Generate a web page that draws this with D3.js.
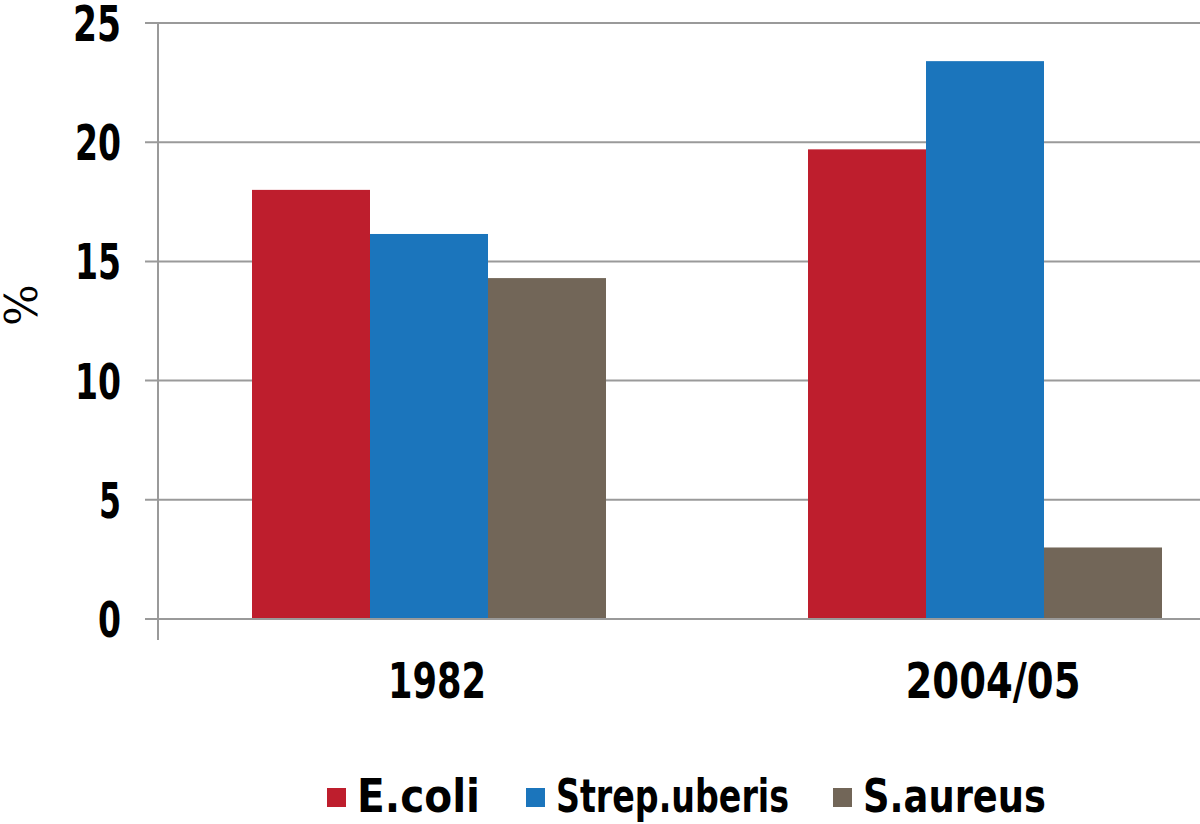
<!DOCTYPE html>
<html>
<head>
<meta charset="utf-8">
<script src="https://cdn.jsdelivr.net/npm/d3@7"></script>
<style>
  body { margin: 0; background: #fff; }
  svg text { font-family: "DejaVu Sans Condensed", "DejaVu Sans", sans-serif; font-weight: bold; fill: #000; }
</style>
</head>
<body>
<svg id="chart" width="1200" height="824"></svg>
<script>
// data
const YEARS = ['1982', '2004/05'];
const SERIES = ['E.coli', 'Strep.uberis', 'S.aureus'];
const ECOLI = [18.0, 19.7];
const STREP = [16.15, 23.4];
const SAUREUS = [14.3, 3.0];
const Y_TICKS = [0, 5, 10, 15, 20, 25];
const COLORS = ['#BE1E2D', '#1B75BC', '#726658'];

const VALUES = [ECOLI, STREP, SAUREUS];

// the original font is a heavy condensed face, squeeze text to its measured widths
const TEXT_WIDTH = {
    '0': 23, '5': 22, '10': 46, '15': 46, '20': 46, '25': 48,
    '1982': 98, '2004/05': 175,
    'E.coli': 123, 'Strep.uberis': 233, 'S.aureus': 183
};

const svg = d3.select('#chart');

const y = d3.scaleLinear().domain([0, 25]).range([619, 23]);
const x = d3.scaleBand().domain(YEARS).range([151, 1263]);
const xs = d3.scaleBand().domain(SERIES).range([101, x.bandwidth() - 101]);
const color = d3.scaleOrdinal().domain(SERIES).range(COLORS);

function squeeze(sel) {
    sel.attr('textLength', d => TEXT_WIDTH[String(d)])
        .attr('lengthAdjust', 'spacingAndGlyphs');
}

// gridlines + tick marks
svg.append('g')
    .selectAll('line')
    .data(Y_TICKS)
    .enter()
    .append('line')
        .attr('x1', 145)
        .attr('x2', 1200)
        .attr('y1', d => y(d))
        .attr('y2', d => y(d))
        .style('stroke', '#9a9a9a')
        .style('stroke-width', 2);

// bars
const rows = [];
YEARS.forEach((yr, i) => {
    SERIES.forEach((s, j) => rows.push({ year: yr, series: s, value: VALUES[j][i] }));
});

svg.append('g')
    .selectAll('rect')
    .data(rows)
    .enter()
    .append('rect')
        .attr('x', d => x(d.year) + xs(d.series))
        .attr('y', d => y(d.value))
        .attr('width', xs.bandwidth())
        .attr('height', d => y(0) - y(d.value))
        .style('fill', d => color(d.series));

// baseline on top of bars
svg.append('line')
    .attr('x1', 145).attr('x2', 1200)
    .attr('y1', y(0)).attr('y2', y(0))
    .style('stroke', '#9a9a9a').style('stroke-width', 2);

// vertical axis line
svg.append('line')
    .attr('x1', 158).attr('x2', 158)
    .attr('y1', y(25)).attr('y2', 640)
    .style('stroke', '#9a9a9a').style('stroke-width', 2);

// y tick labels
svg.append('g')
    .selectAll('text')
    .data(Y_TICKS)
    .enter()
    .append('text')
        .attr('x', 121)
        .attr('y', d => y(d) + 18)
        .attr('text-anchor', 'end')
        .style('font-size', '50px')
        .call(squeeze)
        .text(d => d);

// y axis title
svg.append('text')
    .attr('transform', 'translate(37,305) rotate(-90)')
    .attr('text-anchor', 'middle')
    .style('font-family', '"DejaVu Serif", serif')
    .style('font-size', '44px')
    .style('font-weight', 'normal')
    .text('%');

// x labels
svg.append('g')
    .selectAll('text')
    .data(YEARS)
    .enter()
    .append('text')
        .attr('x', d => x(d) + x.bandwidth() / 2 + 8)
        .attr('y', 698)
        .attr('text-anchor', 'middle')
        .style('font-size', '49px')
        .call(squeeze)
        .text(d => d);

// legend
const LEGEND_X = [327, 526, 833];
const legend = svg.append('g')
    .selectAll('g')
    .data(SERIES)
    .enter()
    .append('g')
        .attr('transform', (d, i) => `translate(${LEGEND_X[i]},0)`);

legend.append('rect')
    .attr('x', 0).attr('y', 788)
    .attr('width', 19).attr('height', 19)
    .style('fill', d => color(d));

legend.append('text')
    .attr('x', 30).attr('y', 812)
    .style('font-size', '47px')
    .call(squeeze)
    .text(d => d);
</script>
</body>
</html>
